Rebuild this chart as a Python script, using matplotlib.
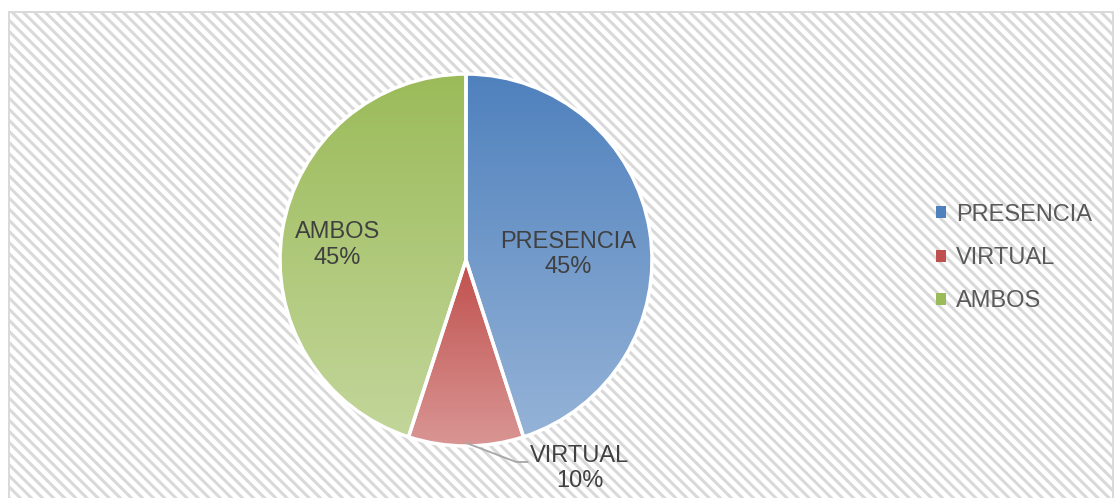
import numpy as np
import matplotlib.pyplot as plt
from matplotlib.colors import LinearSegmentedColormap
from matplotlib.patches import Rectangle, Patch

plt.rcParams['font.family'] = ['Liberation Sans', 'DejaVu Sans']
plt.rcParams['hatch.linewidth'] = 2.2
plt.rcParams['hatch.color'] = '#E6E6E6'

categories = ['PRESENCIA', 'VIRTUAL', 'AMBOS']
values = [45, 10, 45]
# (top colour, bottom colour) of each slice's gradient
shades = [('#4F81BD', '#95B3D7'), ('#C0504D', '#D99694'), ('#9BBB59', '#C3D69B')]
legend_colors = ['#4F81BD', '#C0504D', '#9BBB59']

W, H = 1115, 498
fig = plt.figure(figsize=(W / 100, H / 100), dpi=100)

# hatched chart area with a light border
bg = fig.add_axes([0, 0, 1, 1])
bg.set_xlim(0, W)
bg.set_ylim(H, 0)
bg.axis('off')
bg.add_patch(Rectangle((8.5, 11.5), 1104, 490, facecolor='white', edgecolor='#D9D9D9',
                       hatch='\\\\\\', linewidth=1.4))

R = 186
cx, cy = 466, H - 260
ax = fig.add_axes([(cx - 1.25 * R) / W, (cy - 1.3 * R) / H, 2.5 * R / W, 2.6 * R / H])
wedges, _ = ax.pie(values, startangle=90, counterclock=False, radius=1,
                   wedgeprops=dict(facecolor='none', edgecolor='white', linewidth=2.5))

for w, (top, bottom) in zip(wedges, shades):
    # gradient spans the wedge's own bounding box, dark at top
    t = np.linspace(np.radians(w.theta1), np.radians(w.theta2), 200)
    ys = np.concatenate([[0], np.sin(t)])
    xs = np.concatenate([[0], np.cos(t)])
    cmap = LinearSegmentedColormap.from_list('g', [bottom, top])
    grad = np.linspace(0, 1, 256).reshape(-1, 1)
    im = ax.imshow(grad, cmap=cmap, origin='lower', aspect='auto',
                   extent=[xs.min(), xs.max(), ys.min(), ys.max()], zorder=1)
    im.set_clip_path(w)
    w.set_zorder(2)

txt = dict(color='#404040', fontsize=17, ha='center', va='center', linespacing=1.2)
ax.text(0.55, 0.03, f'{categories[0]}\n{values[0]}%', **txt)
ax.text(-0.69, 0.08, f'{categories[2]}\n{values[2]}%', **txt)
ax.text(0.61, -1.12, f'{categories[1]}\n{values[1]}%', **txt)
ax.plot([0.005, 0.27, 0.33], [-0.985, -1.086, -1.086], color='#A6A6A6', lw=1.3, zorder=3)
ax.set_xlim(-1.25, 1.25)
ax.set_ylim(-1.3, 1.3)

handles = [Patch(facecolor=c) for c in legend_colors]
fig.legend(handles, categories, loc='center left', bbox_to_anchor=(915 / W, 1 - 258 / H),
           frameon=False, fontsize=17, handlelength=0.4, handleheight=0.4,
           handletextpad=0.45, labelspacing=0.9, labelcolor='#595959')

fig.savefig('out.png', dpi=100)
